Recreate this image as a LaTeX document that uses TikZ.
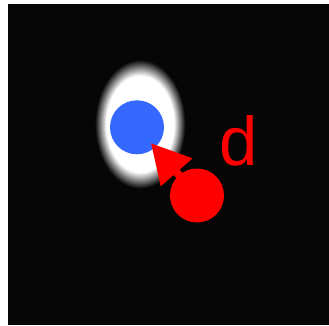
\documentclass[tikz,border=0pt]{standalone}
\usepackage{fontspec}
\setmainfont{Liberation Sans}
\usetikzlibrary{arrows.meta,positioning,calc}
\definecolor{cBlue}{RGB}{53,104,255}
\definecolor{cRed}{RGB}{255,0,0}
\definecolor{cBack}{RGB}{6,6,6}
\pgfdeclareradialshading{glow}{\pgfpoint{0bp}{0bp}}{%
  color(0bp)=(white); color(18bp)=(white); color(21bp)=(white!50!cBack);
  color(24bp)=(cBack); color(50bp)=(cBack)}

\begin{document}
\begin{tikzpicture}[
  x=1pt,y=1pt,
  dot/.style={circle,minimum size=54pt,inner sep=0pt},
  flow/.style={-{Triangle[length=39pt,width=40pt]},line width=8pt,cRed}
]
\useasboundingbox (0,0) rectangle (329,325);
\fill[white] (0,0) rectangle (329,325);
\fill[cBack] (8,0) rectangle (329,321);

% glow round the target
\shade[shading=glow] (140,201) ellipse [x radius=47,y radius=67];

\node[dot,fill=cBlue] (target) at (137,197.7) {};
\node[dot,fill=cRed] (probe) at (197,129.5) {};
\draw[flow,shorten >=21pt] (probe.center) -- (target.center);

\node[text=cRed,font=\fontsize{69}{69}\selectfont,anchor=base] (dist) at (239,160) {d};
\end{tikzpicture}
\end{document}
